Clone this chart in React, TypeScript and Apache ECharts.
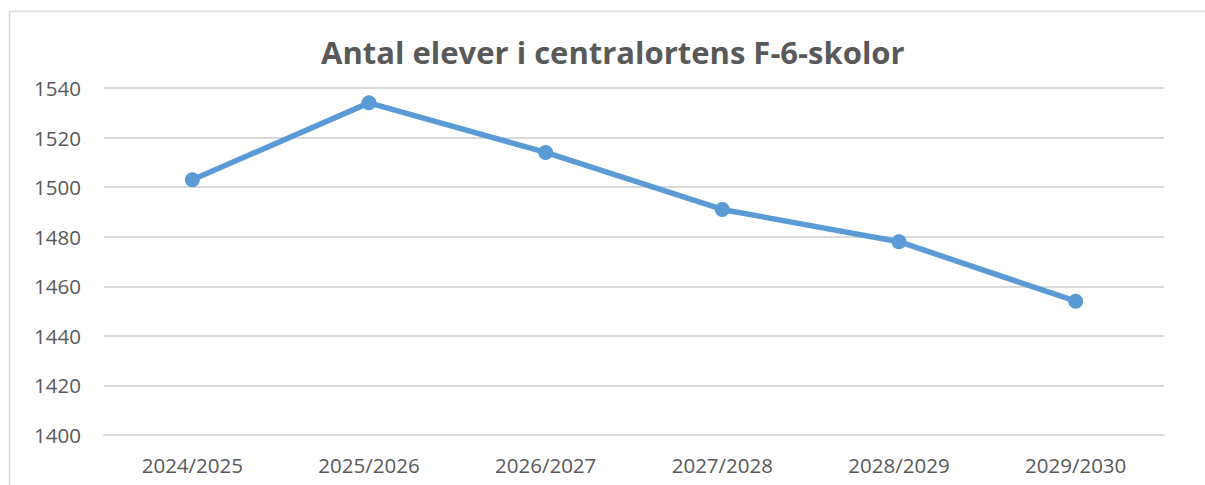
import React, { useEffect, useRef } from "react";
import * as echarts from "echarts";

const categories = ["2024/2025", "2025/2026", "2026/2027", "2027/2028", "2028/2029", "2029/2030"];
const students = [1503, 1534, 1514, 1491, 1478, 1454];
const yMin = 1400;
const yMax = 1540;
const yStep = 20;
const titleText = "Antal elever i centralortens F-6-skolor";

export default function App() {
  const ref = useRef<HTMLDivElement>(null);
  useEffect(() => {
    document.body.style.margin = "0";
    const chart = echarts.init(ref.current!, null, { renderer: "svg" });
    chart.setOption({
      animation: false,
      backgroundColor: "#ffffff",
      title: {
        text: titleText,
        left: 316,
        top: 31,
        textStyle: {
          fontFamily: "Open Sans",
          fontWeight: "bold",
          fontSize: 31,
          color: "#595959",
        },
      },
      graphic: [
        {
          type: "rect",
          shape: { x: 9.5, y: 11.5, width: 1300, height: 600 },
          style: { fill: "none", stroke: "#d9d9d9", lineWidth: 1.5 },
          silent: true,
        },
      ],
      grid: { left: 104, right: 41, top: 88, bottom: 50, containLabel: false },
      xAxis: {
        type: "category",
        data: categories,
        boundaryGap: true,
        axisLine: { show: true, lineStyle: { color: "#d9d9d9", width: 2 } },
        axisTick: { show: false },
        axisLabel: {
          color: "#595959",
          fontSize: 20.5,
          fontFamily: "Open Sans",
          margin: 19,
        },
      },
      yAxis: {
        type: "value",
        min: yMin,
        max: yMax,
        interval: yStep,
        axisLine: { show: false },
        axisTick: { show: false },
        splitLine: { lineStyle: { color: "#d9d9d9", width: 2 } },
        axisLabel: {
          color: "#595959",
          fontSize: 20.5,
          fontFamily: "Open Sans",
          margin: 23,
          formatter: (v: number) => String(v),
        },
      },
      series: [
        {
          type: "line",
          data: students,
          symbol: "circle",
          symbolSize: 15,
          lineStyle: { color: "#5b9bd5", width: 5.5 },
          itemStyle: { color: "#5b9bd5" },
        },
      ],
    });
    return () => chart.dispose();
  }, []);
  return <div ref={ref} style={{ position: "absolute", left: 0, top: 0, width: 1205, height: 485 }} />;
}
